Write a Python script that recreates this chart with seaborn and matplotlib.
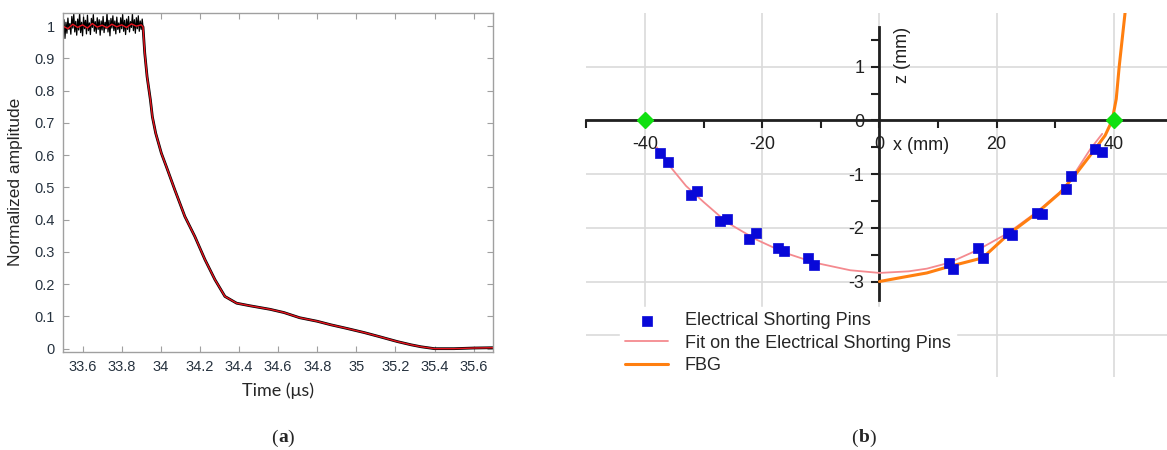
import numpy as np
import pandas as pd
import matplotlib
matplotlib.use("Agg")
import matplotlib.pyplot as plt
from matplotlib.ticker import FixedLocator
import seaborn as sns

# (a) normalized amplitude vs time (us), smoothed (red) trace
red_t = [33.500, 33.525, 33.550, 33.575, 33.600, 33.625, 33.650, 33.675, 33.700, 33.725,
         33.750, 33.775, 33.800, 33.825, 33.850, 33.875, 33.900, 33.909,
         33.918, 33.930, 33.947, 33.957, 33.974, 34.003, 34.030, 34.072, 34.123, 34.174,
         34.226, 34.277, 34.328, 34.388, 34.456, 34.559, 34.630, 34.710, 34.800, 34.870,
         34.950, 35.040, 35.120, 35.210, 35.280, 35.330, 35.400, 35.500, 35.600, 35.700]
red_v = [1.000, 0.992, 1.006, 0.996, 1.004, 0.994, 1.008, 0.997, 1.003, 0.995,
         1.006, 0.998, 1.004, 0.996, 1.007, 1.000, 1.004, 0.998,
         0.916, 0.843, 0.771, 0.719, 0.668, 0.606, 0.562, 0.492, 0.410, 0.348,
         0.276, 0.214, 0.162, 0.141, 0.133, 0.122, 0.112, 0.096, 0.085, 0.074,
         0.063, 0.050, 0.037, 0.022, 0.012, 0.006, 0.000, 0.000, 0.002, 0.003]

# raw (noisy) trace on the plateau
raw_t = [33.500, 33.505, 33.510, 33.515, 33.520, 33.525, 33.530, 33.535, 33.540, 33.545,
         33.550, 33.555, 33.560, 33.565, 33.570, 33.575, 33.580, 33.585, 33.590, 33.595,
         33.600, 33.605, 33.610, 33.615, 33.620, 33.625, 33.630, 33.635, 33.640, 33.645,
         33.650, 33.655, 33.660, 33.665, 33.670, 33.675, 33.680, 33.685, 33.690, 33.695,
         33.700, 33.705, 33.710, 33.715, 33.720, 33.725, 33.730, 33.735, 33.740, 33.745,
         33.750, 33.755, 33.760, 33.765, 33.770, 33.775, 33.780, 33.785, 33.790, 33.795,
         33.800, 33.805, 33.810, 33.815, 33.820, 33.825, 33.830, 33.835, 33.840, 33.845,
         33.850, 33.855, 33.860, 33.865, 33.870, 33.875, 33.880, 33.885, 33.890, 33.895,
         33.900, 33.905, 33.909]
raw_v = [0.985, 1.020, 0.962, 1.012, 0.978, 1.025, 0.990, 1.008, 0.975, 1.030,
         0.994, 1.038, 0.982, 1.015, 0.972, 1.022, 0.988, 1.041, 0.980, 1.012,
         0.970, 1.028, 0.992, 1.018, 0.976, 1.034, 0.986, 1.010, 0.974, 1.024,
         0.996, 1.036, 0.984, 1.014, 0.978, 1.026, 0.990, 1.020, 0.972, 1.016,
         0.988, 1.030, 0.980, 1.012, 0.992, 1.040, 0.982, 1.018, 0.970, 1.024,
         0.994, 1.032, 0.986, 1.016, 0.976, 1.028, 0.990, 1.010, 0.980, 1.026,
         0.992, 1.036, 0.984, 1.018, 0.974, 1.022, 0.990, 1.030, 0.982, 1.014,
         0.996, 1.038, 0.986, 1.020, 0.978, 1.026, 0.992, 1.032, 0.984, 1.016,
         0.990, 1.022, 0.998]

time_ticks = [33.6, 33.8, 34.0, 34.2, 34.4, 34.6, 34.8, 35.0, 35.2, 35.4, 35.6]
time_labels = ["33.6", "33.8", "34", "34.2", "34.4", "34.6", "34.8", "35", "35.2", "35.4", "35.6"]
amp_ticks = [0, 0.1, 0.2, 0.3, 0.4, 0.5, 0.6, 0.7, 0.8, 0.9, 1.0]
amp_labels = ["0", "0.1", "0.2", "0.3", "0.4", "0.5", "0.6", "0.7", "0.8", "0.9", "1"]

# (b) profile in x-z plane (mm)
pins_x = [-37.5, -36.1, -32.2, -31.1, -27.2, -26.0, -22.3, -21.1, -17.3, -16.3, -12.2, -11.2,
          11.9, 12.6, 16.8, 17.6, 21.9, 22.6, 26.9, 27.8, 31.8, 32.7, 36.8, 38.0]
pins_z = [-0.60, -0.77, -1.39, -1.31, -1.87, -1.83, -2.20, -2.09, -2.37, -2.43, -2.56, -2.69,
          -2.65, -2.77, -2.38, -2.56, -2.10, -2.14, -1.72, -1.75, -1.27, -1.03, -0.53, -0.58]

fit_x = [-38.0, -36.0, -33.0, -30.0, -26.0, -21.0, -16.0, -11.0, -5.0, 0.0,
         5.0, 8.1, 11.9, 16.8, 21.9, 26.9, 31.8, 36.0, 38.0]
fit_z = [-0.50, -0.82, -1.22, -1.52, -1.90, -2.22, -2.47, -2.65, -2.79, -2.84,
         -2.81, -2.76, -2.65, -2.41, -2.10, -1.70, -1.24, -0.53, -0.25]

fbg_x = [0.0, 4.0, 8.1, 11.9, 17.6, 21.9, 26.9, 30.8, 33.5, 36.8, 38.5, 39.7, 40.4, 40.9, 41.4, 41.9]
fbg_z = [-3.00, -2.92, -2.84, -2.72, -2.56, -2.13, -1.72, -1.35, -1.00, -0.53, -0.28, 0.00, 0.40, 1.00, 1.50, 2.00]

ends_x = [-40, 40]
ends_z = [0, 0]

sns.set_style("ticks")
plt.rcParams["font.family"] = ["Liberation Sans", "DejaVu Sans"]
plt.rcParams["axes.unicode_minus"] = False

fig = plt.figure(figsize=(11.67, 4.5), dpi=100)

# ---- panel (a)
ax1 = fig.add_axes([0.054, 0.218, 0.3686, 0.754])
noisy = pd.DataFrame({"t": raw_t, "v": raw_v})
tail = pd.DataFrame({"t": red_t[17:], "v": red_v[17:]})
sm = pd.DataFrame({"t": red_t, "v": red_v})
sns.lineplot(data=noisy, x="t", y="v", ax=ax1, color="black", lw=0.9,
             estimator=None, sort=False)
sns.lineplot(data=tail, x="t", y="v", ax=ax1, color="black", lw=2.0,
             estimator=None, sort=False)
sns.lineplot(data=sm, x="t", y="v", ax=ax1, color="#e8141e", lw=1.0,
             estimator=None, sort=False)
ax1.set_xlim(33.5, 35.7)
ax1.set_ylim(-0.01, 1.042)
ax1.set_xticks(time_ticks)
ax1.set_xticklabels(time_labels)
ax1.set_yticks(amp_ticks)
ax1.set_yticklabels(amp_labels)
for s in ax1.spines.values():
    s.set_visible(True)
    s.set_color("#a0a0a0")
    s.set_linewidth(1.0)
ax1.tick_params(direction="in", top=True, right=True, length=4, color="#a0a0a0",
                labelsize=10.5, labelcolor="#26323f", pad=6)
ax1.set_xlabel("Time (μs)", fontsize=13, family=["Lato", "DejaVu Sans"], labelpad=6)
ax1.set_ylabel("Normalized amplitude", fontsize=12.5, labelpad=8)

# ---- panel (b)
ax2 = fig.add_axes([0.502, 0.162, 0.498, 0.809])
sns.lineplot(x=fit_x, y=fit_z, ax=ax2, color="#f48a8f", lw=1.3, estimator=None, sort=False,
             label="Fit on the Electrical Shorting Pins", zorder=3)
sns.lineplot(x=fbg_x, y=fbg_z, ax=ax2, color="#ff7f10", lw=2.2, estimator=None, sort=False,
             label="FBG", zorder=4)
sns.scatterplot(x=pins_x, y=pins_z, ax=ax2, color="#0808d8", marker="s", s=60,
                edgecolor="#0808d8", linewidth=0.5, label="Electrical Shorting Pins", zorder=5)
ax2.plot(ends_x, ends_z, ls="none", marker="D", ms=8, color="#10e010", zorder=6)

ax2.set_xlim(-50.1, 49.06)
ax2.set_ylim(-4.78, 2.0)
ax2.spines["top"].set_visible(False)
ax2.spines["right"].set_visible(False)
ax2.spines["left"].set_position(("data", 0))
ax2.spines["bottom"].set_position(("data", 0))
ax2.spines["left"].set_bounds(-3.35, 1.74)
ax2.spines["left"].set_linewidth(2.0)
ax2.spines["bottom"].set_linewidth(2.0)
ax2.spines["left"].set_color("#202020")
ax2.spines["bottom"].set_color("#202020")
ax2.xaxis.set_major_locator(FixedLocator([-40, -20, 0, 20, 40]))
ax2.xaxis.set_minor_locator(FixedLocator([-50, -30, -10, 10, 30]))
ax2.yaxis.set_major_locator(FixedLocator([-3, -2, -1, 0, 1]))
ax2.yaxis.set_minor_locator(FixedLocator([-2.5, -1.5, -0.5, 0.5, 1.5]))
ax2.set_xticklabels(["-40", "-20", "0", "20", "40"])
ax2.set_yticklabels(["-3", "-2", "-1", "0", "1"])
ax2.tick_params(which="both", direction="out", length=6, width=1.5, color="#202020",
                labelsize=13, labelcolor="#202020", pad=5)
ax2.grid(True, which="major", color="#dadada", lw=1.2)
ax2.axhline(-4, color="#dadada", lw=1.2, zorder=0)
ax2.set_axisbelow(True)
ax2.set_xlabel("")
ax2.set_ylabel("")
ax2.text(2.3, -0.46, "x (mm)", fontsize=13, color="#202020", va="center", ha="left")
ax2.text(4.0, 1.22, "z (mm)", fontsize=13, color="#202020", va="center", ha="center",
         rotation=90)

handles, labels = ax2.get_legend_handles_labels()
order = [2, 0, 1]
leg = ax2.legend([handles[i] for i in order], [labels[i] for i in order],
                 loc="upper left", bbox_to_anchor=(0.531, 0.318), bbox_transform=fig.transFigure,
                 frameon=True, fontsize=13, labelspacing=0.3, handlelength=2.4,
                 handletextpad=0.9, borderpad=0.3, borderaxespad=0)
leg.get_frame().set_facecolor("white")
leg.get_frame().set_edgecolor("white")
leg.get_frame().set_alpha(1.0)
leg.set_zorder(10)

fig.text(0.238, 0.027, "(", fontsize=14, family=["Liberation Serif"], ha="right", va="center")
fig.text(0.2385, 0.027, "a", fontsize=14, family=["Liberation Serif"], weight="bold", ha="left", va="center")
fig.text(0.2465, 0.027, ")", fontsize=14, family=["Liberation Serif"], ha="left", va="center")
fig.text(0.735, 0.027, "(", fontsize=14, family=["Liberation Serif"], ha="right", va="center")
fig.text(0.7355, 0.027, "b", fontsize=14, family=["Liberation Serif"], weight="bold", ha="left", va="center")
fig.text(0.7445, 0.027, ")", fontsize=14, family=["Liberation Serif"], ha="left", va="center")

fig.savefig("out.png", dpi=100)
